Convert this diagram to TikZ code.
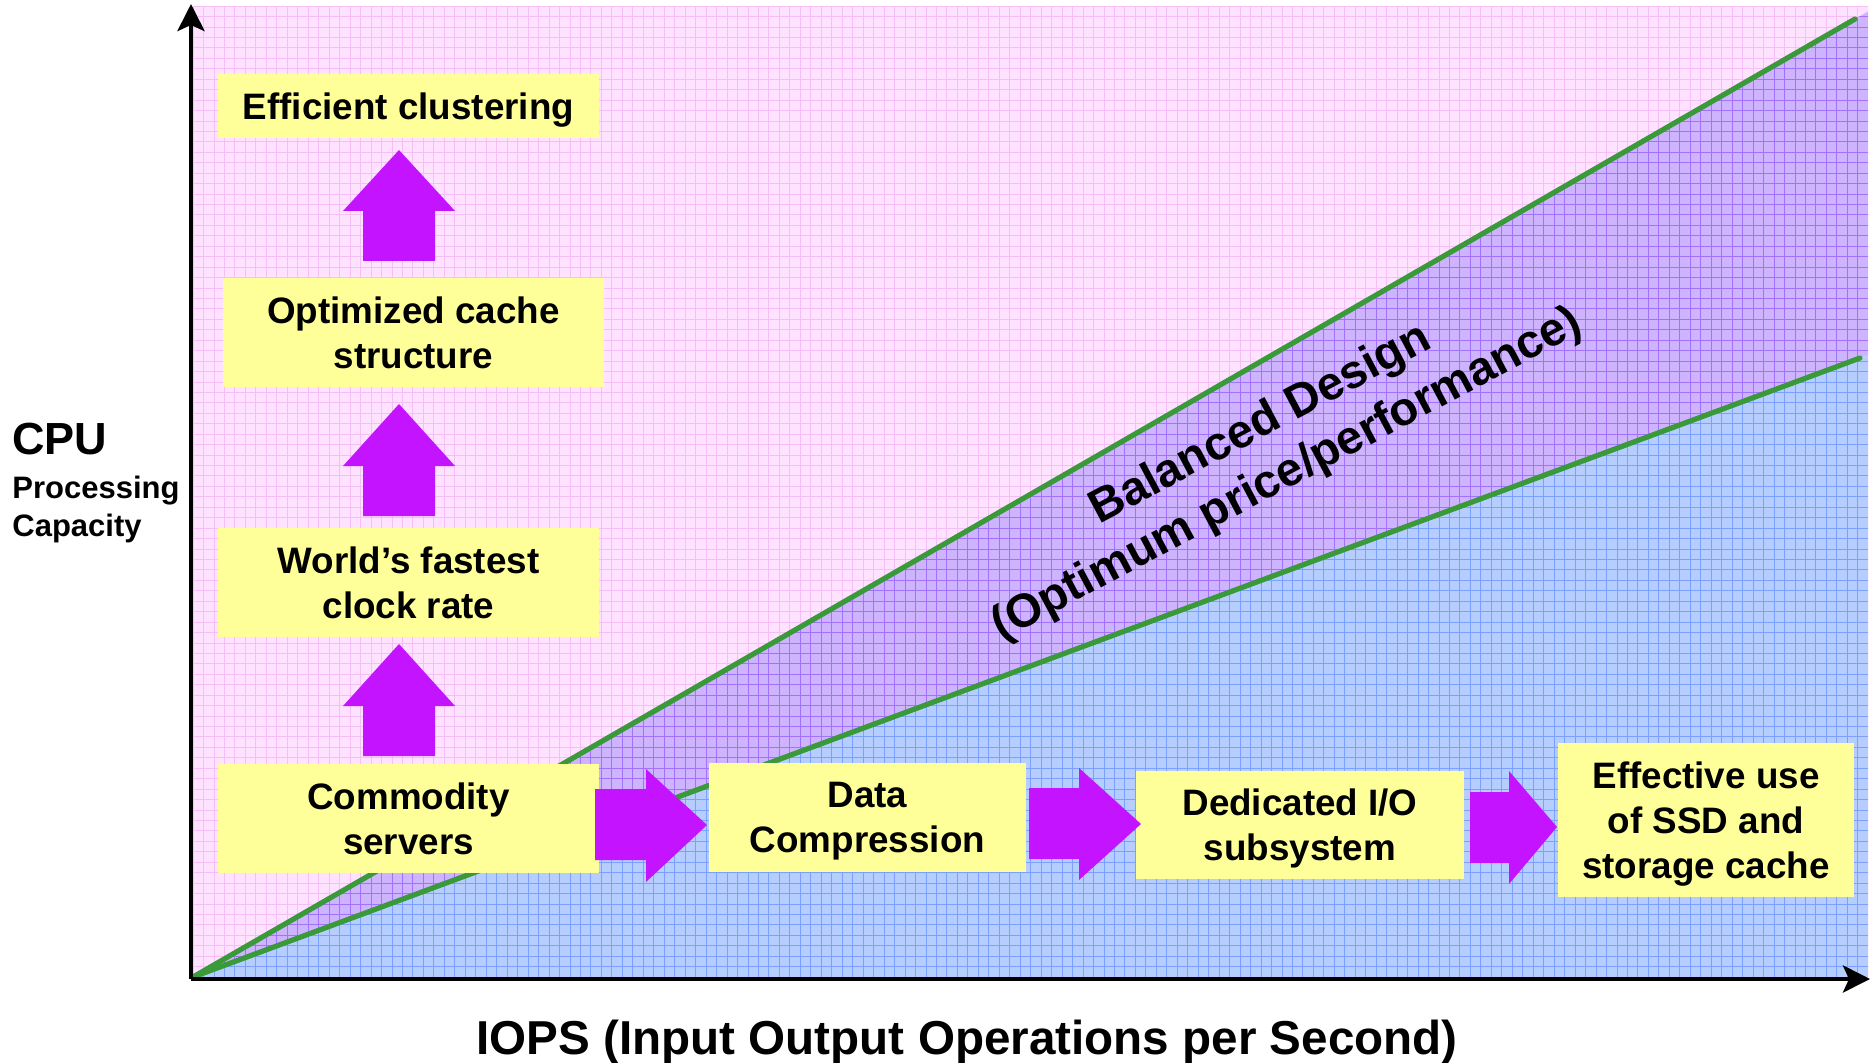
\documentclass[tikz,border=0pt]{standalone}
\usepackage{fontspec}
\setmainfont{Liberation Sans}
\usetikzlibrary{arrows.meta,calc}
\definecolor{pinkbg}{RGB}{255,226,255}
\definecolor{pinkgrid}{RGB}{246,190,246}
\definecolor{purbg}{RGB}{206,180,255}
\definecolor{purgrid}{RGB}{162,114,255}
\definecolor{bluebg}{RGB}{182,206,255}
\definecolor{bluegrid}{RGB}{124,160,255}
\definecolor{boxy}{RGB}{255,255,153}
\definecolor{magarrow}{RGB}{196,20,255}
\definecolor{trendgreen}{RGB}{58,154,58}
\begin{document}
\begin{tikzpicture}[x=0.5pt,y=-0.5pt,
  box/.style={fill=boxy, inner sep=0pt, align=center, text depth=0pt,
    font=\fontsize{18.4}{22.5}\selectfont\bfseries},
  blockarrow/.style={fill=magarrow},
  trend/.style={draw=trendgreen, line width=2.6pt, line cap=round},
  axis/.style={draw=black, line width=2.3pt, -{Stealth[length=13.5pt,width=13.5pt,inset=3pt]}},
  gridline/.style={line width=0.4pt}]
\useasboundingbox (0,0) rectangle (1871,1063);

% named corner coordinates
\coordinate (O) at (193,977);
\coordinate (UE) at (1868,11.5);
\coordinate (LE) at (1868,355);
\coordinate (U) at (1855,19);
\coordinate (L) at (1860,358);

% pink background region
\begin{scope}
  \clip (193,6) rectangle (1868,977);
  \fill[pinkbg] (193,6) rectangle (1868,977);
  \foreach \i in {0,...,160} \draw[pinkgrid,gridline] ({193+\i*10.47},6) -- ({193+\i*10.47},977);
  \foreach \j in {0,...,93} \draw[pinkgrid,gridline] (193,{977-\j*10.44}) -- (1868,{977-\j*10.44});
\end{scope}
% purple balanced region
\begin{scope}
  \clip (O) -- (UE) -- (1868,6) -- (LE) -- cycle;
  \fill[purbg] (193,6) rectangle (1868,977);
  \foreach \i in {0,...,160} \draw[purgrid,gridline] ({193+\i*10.47},6) -- ({193+\i*10.47},977);
  \foreach \j in {0,...,93} \draw[purgrid,gridline] (193,{977-\j*10.44}) -- (1868,{977-\j*10.44});
\end{scope}
% blue region
\begin{scope}
  \clip (O) -- (LE) -- (1868,977) -- cycle;
  \fill[bluebg] (193,6) rectangle (1868,977);
  \foreach \i in {0,...,160} \draw[bluegrid,gridline] ({193+\i*10.47},6) -- ({193+\i*10.47},977);
  \foreach \j in {0,...,93} \draw[bluegrid,gridline] (193,{977-\j*10.44}) -- (1868,{977-\j*10.44});
\end{scope}

% trend lines
\draw[trend] (O) -- (U);
\draw[trend] (O) -- (L);

% axes
\coordinate (axO) at (191,979);
\coordinate (ytip) at (191,4);
\coordinate (xtip) at (1870,979);
\draw[axis] (axO) -- (ytip);
\draw[axis] (axO) -- (xtip);

% boxes
\node[box, minimum width=190.5pt, minimum height=32pt] (b1) at (408.5,106) {Efficient clustering};
\node[box, minimum width=190.5pt, minimum height=54.5pt] (b2) at (413.5,332.5) {Optimized cache\\structure};
\node[box, minimum width=190.5pt, minimum height=54.5pt] (b3) at (408.5,582.5) {World’s fastest\\clock rate};
\node[box, minimum width=190.5pt, minimum height=54.5pt] (b4) at (408.5,818.5) {Commodity\\servers};
\node[box, minimum width=158.5pt, minimum height=54.5pt] (b5) at (867.5,817.5) {Data\\Compression};
\node[box, minimum width=164pt, minimum height=54pt] (b6) at (1300,825) {Dedicated I/O\\subsystem};
\node[box, minimum width=148pt, minimum height=77pt] (b7) at (1706,820) {Effective use\\of SSD and\\storage cache};

% block arrows (up)
\fill[blockarrow] (363,261) -- (363,211) -- (343,211) -- (399,150) -- (455,211) -- (435,211) -- (435,261) -- cycle;
\fill[blockarrow] (363,516) -- (363,466) -- (343,466) -- (399,404) -- (455,466) -- (435,466) -- (435,516) -- cycle;
\fill[blockarrow] (363,756) -- (363,706) -- (343,706) -- (399,644) -- (455,706) -- (435,706) -- (435,756) -- cycle;
% block arrows (right)
\fill[blockarrow] (595,789) -- (646,789) -- (646,769) -- (707,825) -- (646,882) -- (646,860) -- (595,860) -- cycle;
\fill[blockarrow] (1029,788) -- (1079,788) -- (1079,768) -- (1141,824) -- (1079,880) -- (1079,859) -- (1029,859) -- cycle;
\fill[blockarrow] (1470,792) -- (1509,792) -- (1509,771) -- (1557,827) -- (1509,884) -- (1509,863) -- (1470,863) -- cycle;

% balanced design label
\node[rotate=28, align=center, inner sep=0pt, font=\fontsize{23.5}{28.5}\selectfont\bfseries] (bal) at (1274,450)
  {Balanced Design\\(Optimum price/performance)};

% axis labels
\node[anchor=base west, inner sep=0pt, font=\fontsize{22.5}{27}\selectfont\bfseries] (cpu) at (12,454) {CPU};
\node[anchor=base west, inner sep=0pt, font=\fontsize{15.5}{19}\selectfont\bfseries] (proc) at (12,498) {Processing};
\node[anchor=base west, inner sep=0pt, font=\fontsize{15.5}{19}\selectfont\bfseries] (capa) at (12,536) {Capacity};
\node[anchor=base, inner sep=0pt, font=\fontsize{23.8}{28}\selectfont\bfseries] (iops) at (967,1054) {IOPS (Input Output Operations per Second)};
\end{tikzpicture}
\end{document}
